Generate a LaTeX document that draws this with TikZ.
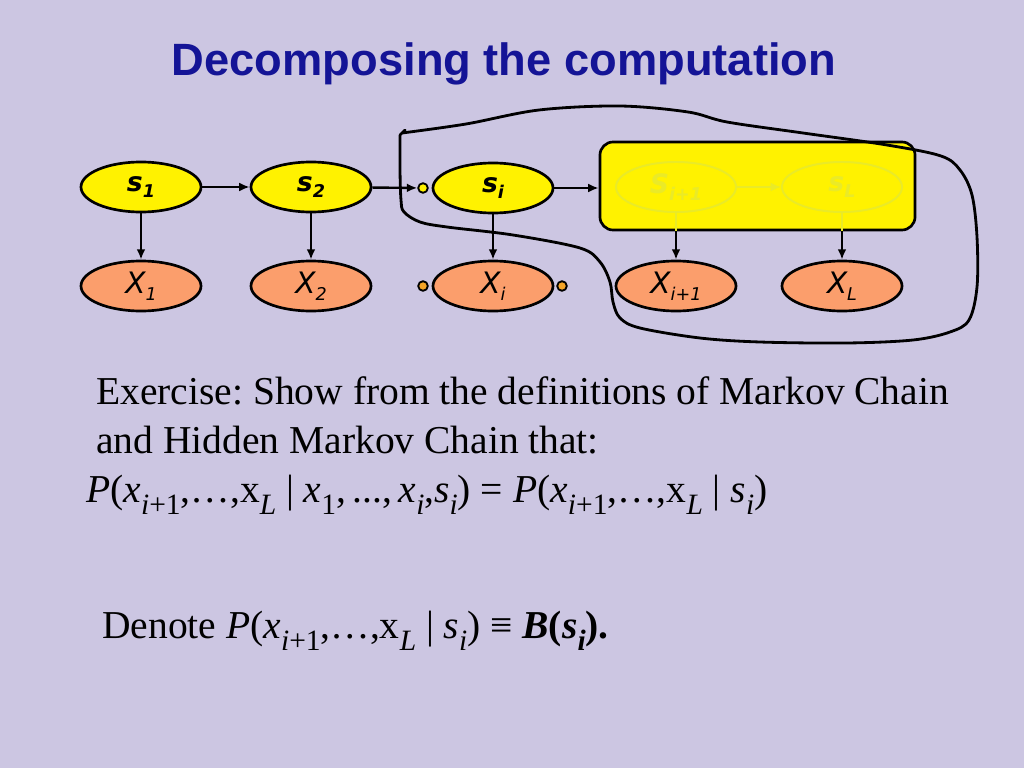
\documentclass[tikz,border=0pt]{standalone}
\usepackage{fontspec}
\setmainfont{Liberation Serif}
\newfontfamily\titlefont{Liberation Sans}
\newfontfamily\nodefont{DejaVu Sans}
\usetikzlibrary{shapes.geometric,arrows.meta}
\definecolor{fon}{RGB}{204,198,226}
\definecolor{titleblue}{RGB}{20,20,150}
\definecolor{obsorange}{RGB}{251,158,108}
\definecolor{dotorange}{RGB}{245,165,40}
\definecolor{ghostyellow}{RGB}{234,234,40}
\newcommand\nsub[1]{\raisebox{-0.45ex}{\fontsize{12.5}{12.5}\selectfont #1}}
\newcommand\lo[1]{\raisebox{-0.32em}{\fontsize{21}{21}\selectfont #1}}
\frenchspacing

\begin{document}
\begin{tikzpicture}[x=0.025cm,y=-0.025cm,
  >={Latex[length=2.6mm,width=2.2mm]},
  hid/.style={ellipse,draw,line width=1.9pt,fill=yellow,minimum width=3cm,minimum height=1.25cm,inner sep=0pt,
    font=\nodefont\bfseries\itshape\fontsize{19}{19}\selectfont},
  obs/.style={hid,fill=obsorange,font=\nodefont\itshape\fontsize{21}{21}\selectfont},
  ghost/.style={hid,draw=ghostyellow,fill=none,line width=1.4pt,text=ghostyellow},
  dot/.style={circle,draw,line width=1.3pt,inner sep=0pt,minimum size=0.24cm},
  link/.style={->,line width=1.7pt},
  txt/.style={anchor=base west,inner sep=0pt,font=\fontsize{28.1}{28.1}\selectfont}]

  \fill[fon] (0,0) rectangle (1024,768);
  \node[anchor=base,text=titleblue,font=\titlefont\bfseries\fontsize{32.2}{32.2}\selectfont] (title) at (504,76) {Decomposing the computation};

  % скрытые состояния
  \node[hid] (s1) at (141,187) {s\nsub{1}};
  \node[hid] (s2) at (311,187) {s\nsub{2}};
  \node[hid] (si) at (493,188) {s\nsub{i}};

  % наблюдения
  \node[obs] (x1) at (141,286) {X\nsub{1}};
  \node[obs] (x2) at (311,286) {X\nsub{2}};
  \node[obs] (xi) at (493,286) {X\nsub{i}};
  \node[obs] (xi1) at (676,286) {X\nsub{i+1}};
  \node[obs] (xL) at (842,286) {X\nsub{L}};

  % жёлтый блок поверх хвоста цепи
  \node[draw,line width=1.9pt,fill=yellow,rounded corners=0.33cm,minimum width=7.875cm,minimum height=2.2cm] (blk) at (757.5,186) {};
  \node[ghost] (gi1) at (676,187) {S\nsub{i+1}};
  \node[ghost] (gL) at (842,187) {s\nsub{L}};
  \draw[->,ghostyellow,line width=1.2pt] (gi1) -- (gL);
  \draw[ghostyellow,line width=1.2pt] (gi1) -- (gi1 |- blk.south);
  \draw[ghostyellow,line width=1.2pt] (gL) -- (gL |- blk.south);

  % точки
  \node[dot,fill=yellow] (d0) at (423,188) {};
  \node[dot,fill=dotorange] (d1) at (423,286) {};
  \node[dot,fill=dotorange] (d2) at (562,286) {};

  % стрелки
  \draw[link] (s1) -- (s2);
  \draw[link] (s2) -- (d0);
  \draw[link] (si) -- (si -| blk.west);
  \foreach \a in {1,2,i}
    \draw[link] (s\a) -- (x\a);
  \draw[link] (blk.south -| xi1) -- (xi1);
  \draw[link] (blk.south -| xL) -- (xL);

  % обводка от руки
  \draw[line width=2pt,line join=round,line cap=round] (405,130) -- (400,135)
    plot[smooth,tension=0.55] coordinates {(400,135) (400,170) (401,200) (404,212) (420,222)
      (447,227) (513,235) (580,248) (600,262) (610,282) (613,302) (620,318) (640,328)
      (700,338) (760,342) (847,343) (913,340) (950,332) (969,320) (977,287) (977,237)
      (972,195) (960,170) (941,156) (887,145) (803,133) (727,122) (688,112) (620,106)
      (539,110) (466,124) (402,133)};

  % текст
  \node[txt] (ex1) at (96,404) {Exercise: Show from the definitions of Markov Chain};
  \node[txt] (ex2) at (96,453) {and Hidden Markov Chain that:};
  \node[txt] (ex3) at (86,502) {\textit{P}(\textit{x}\lo{\textit{i}+1},…,x\lo{\textit{L}} | \textit{x}\lo{1},\,...,\,\textit{x}\lo{\textit{i}},\textit{s}\lo{\textit{i}}) = \textit{P}(\textit{x}\lo{\textit{i}+1},…,x\lo{\textit{L}} | \textit{s}\lo{\textit{i}})};
  \node[txt] (den) at (102,638) {Denote \textit{P}(\textit{x}\lo{\textit{i}+1},…,x\lo{\textit{L}} | \textit{s}\lo{\textit{i}}) ≡ \textbf{\textit{B}(\textit{s}\lo{\textit{i}}).}};
\end{tikzpicture}
\end{document}
